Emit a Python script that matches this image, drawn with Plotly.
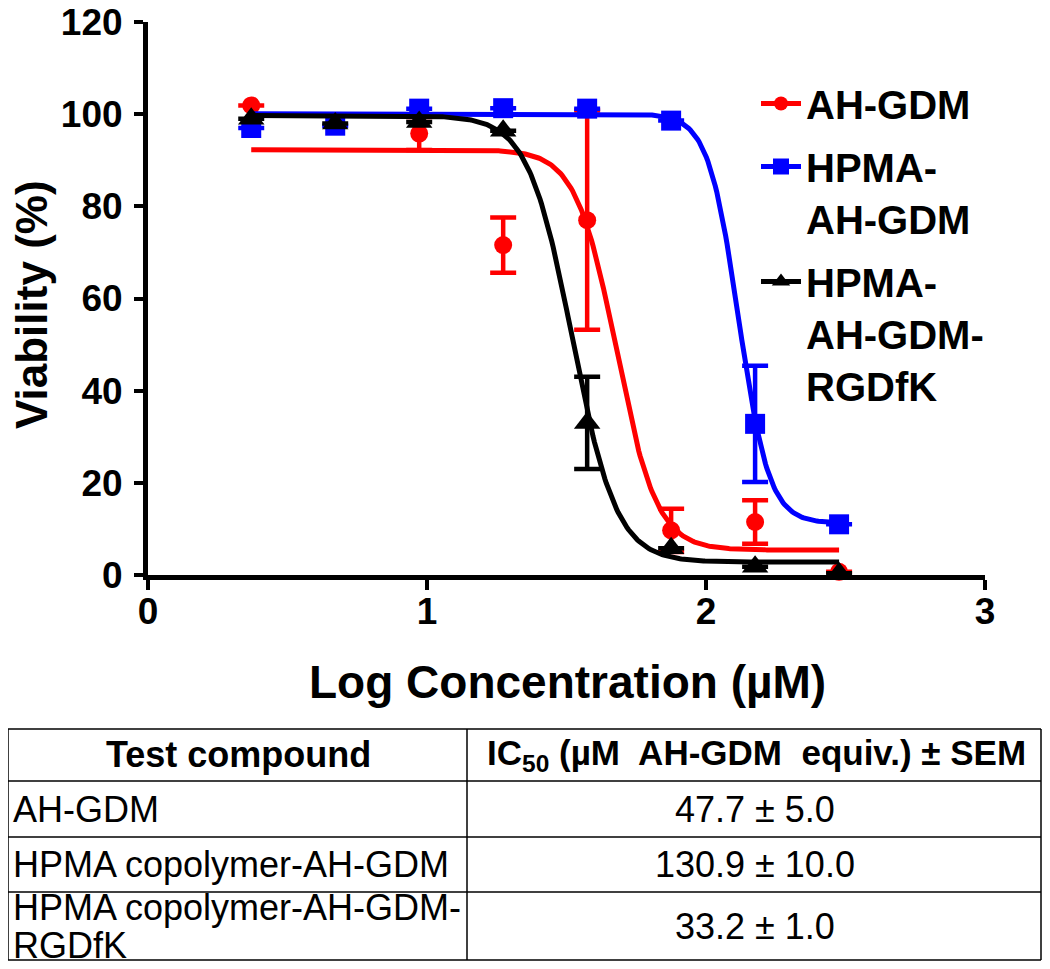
import numpy as np
import plotly.graph_objects as go

# log10 of concentration (uM), 2-fold dilutions
log_conc = [0.370, 0.671, 0.972, 1.273, 1.574, 1.875, 2.176, 2.477]

# viability (%) and SEM
ah_gdm = [101.9, None, 95.8, 71.6, 77.0, 9.7, 11.5, 0.7]
ah_gdm_err = [0, 0, 3.6, 6.0, 23.8, 4.7, 4.7, 0]
hpma = [97.0, 97.5, 101.2, 101.3, 101.2, 98.6, 32.8, 11.0]
hpma_err = [0, 0, 0, 0, 0, 0, 12.6, 0]
hpma_rgd = [99.0, 98.0, 98.3, 96.4, 33.0, 5.8, 1.8, 0.4]
hpma_rgd_err = [0, 0, 0, 0, 10.0, 0, 0, 0]

# table
compounds = ["AH-GDM", "HPMA copolymer-AH-GDM", "HPMA copolymer-AH-GDM-<br>RGDfK"]
ic50 = [47.7, 130.9, 33.2]
ic50_sem = [5.0, 10.0, 1.0]

# sigmoidal fit (top, bottom, hill), IC50 taken from the table
fit_top = [92.3, 100.1, 99.7]
fit_bottom = [5.4, 11.2, 2.8]
fit_hill = [6.0, 8.0, 5.5]

names = ["AH-GDM", "HPMA-<br>AH-GDM", "HPMA-<br>AH-GDM-<br>RGDfK"]
colors = ["#ff0000", "#0000ff", "#000000"]
symbols = ["circle", "square", "triangle-up"]
msizes = [18, 20, 23]
series = [(ah_gdm, ah_gdm_err), (hpma, hpma_err), (hpma_rgd, hpma_rgd_err)]

FONT = "Liberation Sans, Arial, sans-serif"
OFF = 8  # page body margin
W, H = 1050, 969
L, R, T, B = 148, 985, 22, 575


def px(x):
    return (x - L) / (R - L)


def py(y):
    return (B - y) / (B - T)


fig = go.Figure()
xs = np.linspace(log_conc[0], log_conc[-1], 400)
for i in range(3):
    top, bot, h = fit_top[i], fit_bottom[i], fit_hill[i]
    curve = bot + (top - bot) / (1 + 10 ** ((xs - np.log10(ic50[i])) * h))
    fig.add_trace(go.Scatter(x=xs, y=curve, mode="lines", line=dict(color=colors[i], width=5),
                             showlegend=False, hoverinfo="skip", cliponaxis=False))
    y, e = series[i]
    fig.add_trace(go.Scatter(
        x=log_conc, y=y, mode="markers", showlegend=False, cliponaxis=False,
        marker=dict(color=colors[i], symbol=symbols[i], size=msizes[i]),
        error_y=dict(type="data", array=e, visible=True, color=colors[i], thickness=4.5, width=13)))
    # legend entry with line through the marker
    fig.add_trace(go.Scatter(x=[None], y=[None], mode="lines+markers", name=names[i],
                             legendgroup=str(i),
                             line=dict(color=colors[i], width=5),
                             marker=dict(color=colors[i], symbol=symbols[i], size=msizes[i] - 4)))

axis_common = dict(showline=True, linecolor="black", linewidth=5, ticks="outside", tickwidth=4,
                   tickcolor="black", showgrid=False, zeroline=False, ticklabeloverflow="allow",
                   tickfont=dict(family=FONT, size=37, color="black", weight="bold"))
fig.update_xaxes(range=[0, 3], tickvals=[0, 1, 2, 3], ticklen=10, ticklabelstandoff=-10, **axis_common)
fig.update_yaxes(range=[0, 120], tickvals=[0, 20, 40, 60, 80, 100, 120], ticklen=9,
                 ticklabelstandoff=4, **axis_common)

ann = [
    dict(text="<b>Log Concentration (µM)</b>", x=px(567), y=py(682), font=dict(size=46)),
    dict(text="<b>Viability (%)</b>", x=px(32), y=py(305), textangle=-90, font=dict(size=44)),
]

# table
row_lines = [729, 781, 837, 892, 960]
col_lines = [8, 467, 1041]
shapes = []
for yl in row_lines:
    shapes.append(dict(type="line", xref="paper", yref="paper", x0=px(col_lines[0]), x1=px(col_lines[-1]),
                       y0=py(yl), y1=py(yl), line=dict(color="black", width=1.5)))
for xl in col_lines:
    shapes.append(dict(type="line", xref="paper", yref="paper", x0=px(xl), x1=px(xl),
                       y0=py(row_lines[0]), y1=py(row_lines[-1]), line=dict(color="black", width=1.5)))

TS = 36
ann.append(dict(text="<b>Test compound</b>", x=px(238), y=py(755), font=dict(size=TS)))
ann.append(dict(text="<b>IC<sub>50</sub> (µM\u00a0 AH-GDM\u00a0 equiv.) ± SEM</b>", x=px(756), y=py(755),
                font=dict(size=35)))
for i in range(3):
    y0, y1 = row_lines[i + 1], row_lines[i + 2]
    lines = compounds[i].split("<br>")
    step = 38
    first = (y0 + y1) / 2 - step * (len(lines) - 1) / 2
    for k, s in enumerate(lines):
        ann.append(dict(text=s, x=px(11), y=py(first + k * step), xanchor="left", align="left",
                        font=dict(size=TS)))
    ann.append(dict(text=f"{ic50[i]:.1f} ± {ic50_sem[i]:.1f}", x=px(755), y=py((y0 + y1) / 2),
                    font=dict(size=TS)))

for a in ann:
    a.update(xref="paper", yref="paper", showarrow=False)
    a.setdefault("xanchor", "center")
    a.setdefault("yanchor", "middle")
    a["font"].update(family=FONT, color="black")

fig.update_layout(
    width=W - OFF, height=H - OFF,
    margin=dict(l=L - OFF, r=W - R, t=T - OFF, b=H - B, autoexpand=False),
    plot_bgcolor="white", paper_bgcolor="white",
    annotations=ann, shapes=shapes,
    legend=dict(x=px(756), y=py(71), xanchor="left", yanchor="top", valign="top",
                tracegroupgap=8, itemwidth=40, bgcolor="rgba(0,0,0,0)",
                font=dict(family=FONT, size=40, color="black", weight="bold")),
)

fig.write_html("out.html")
